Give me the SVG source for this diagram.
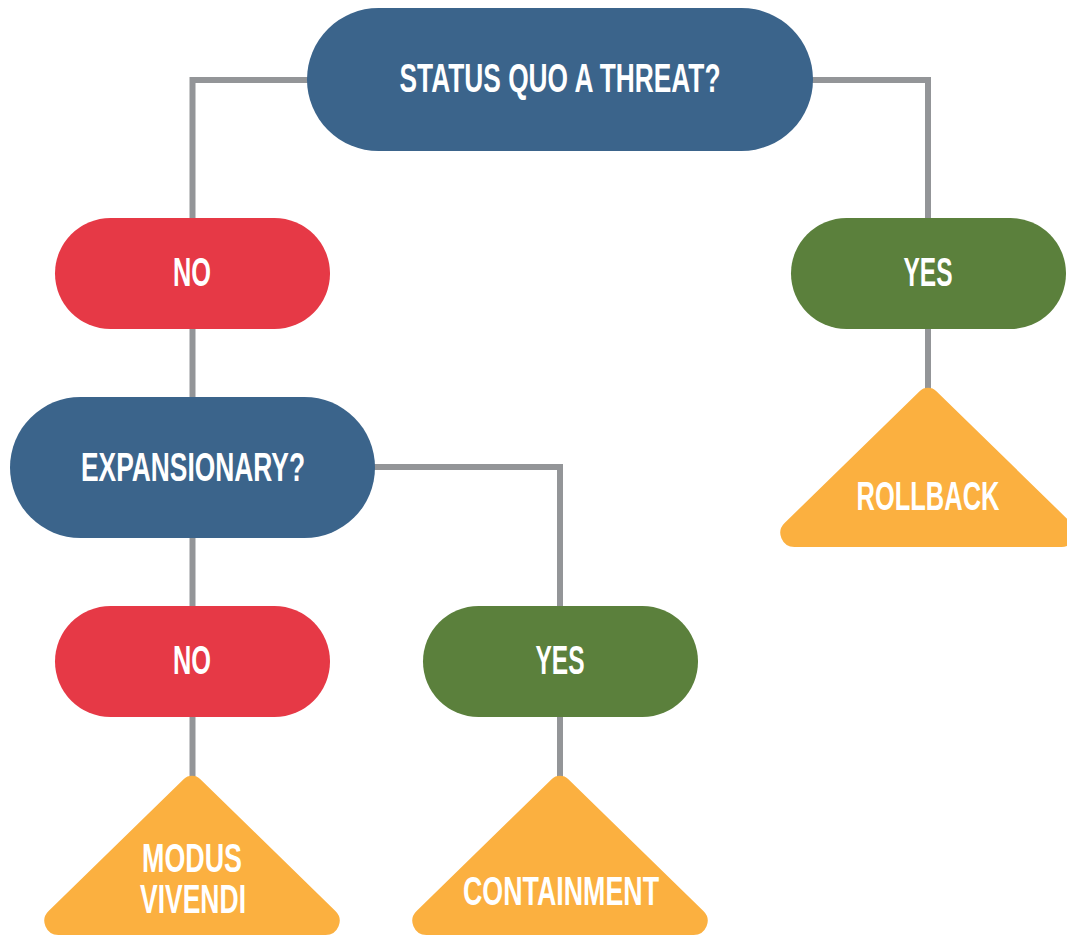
<svg xmlns="http://www.w3.org/2000/svg" xmlns:xlink="http://www.w3.org/1999/xlink" width="1067" height="936" viewBox="0 0 1067 936">
  <defs>
    <style>
      .conn { fill: none; stroke: #939598; stroke-width: 6; stroke-linejoin: miter; }
      .q { fill: #3b648b; }
      .no { fill: #e63946; }
      .yes { fill: #5b803c; }
      .end { fill: #fbb040; }
      text { font-family: "Liberation Sans", Arial, sans-serif; font-weight: bold; font-size: 40px; fill: #ffffff; text-anchor: middle; }
    </style>
    <path id="tri" d="M -8.39,8.19 L -143.4,140 A 14 14 0 0 0 -133.6,164 L 133.6,164 A 14 14 0 0 0 143.4,140 L 8.39,8.19 A 12 12 0 0 0 -8.39,8.19 Z"/>
  </defs>
  <rect width="1067" height="936" fill="#ffffff"/>

  <g id="connectors">
    <polyline class="conn" points="310,80 192.5,80 192.5,220"/>
    <polyline class="conn" points="810,80 928,80 928,220"/>
    <line class="conn" x1="192.5" y1="328" x2="192.5" y2="400"/>
    <polyline class="conn" points="372,467 560,467 560,608"/>
    <line class="conn" x1="192.5" y1="536" x2="192.5" y2="608"/>
    <line class="conn" x1="192.5" y1="716" x2="192.5" y2="780"/>
    <line class="conn" x1="560" y1="716" x2="560" y2="780"/>
    <line class="conn" x1="928" y1="328" x2="928" y2="392"/>
  </g>

  <g id="status-quo">
    <rect class="q" x="307" y="8" width="506" height="143" rx="71.5"/>
    <text x="560" y="92" textLength="321" lengthAdjust="spacingAndGlyphs">STATUS QUO A THREAT?</text>
  </g>

  <g id="no-1">
    <rect class="no" x="55" y="218" width="275" height="111" rx="55.5"/>
    <text x="192" y="286" textLength="38" lengthAdjust="spacingAndGlyphs">NO</text>
  </g>

  <g id="yes-1">
    <rect class="yes" x="791" y="218" width="275" height="111" rx="55.5"/>
    <text x="928" y="286" textLength="49" lengthAdjust="spacingAndGlyphs">YES</text>
  </g>

  <g id="expansionary">
    <rect class="q" x="10" y="397" width="365" height="141" rx="70.5"/>
    <text x="193" y="481" textLength="224" lengthAdjust="spacingAndGlyphs">EXPANSIONARY?</text>
  </g>

  <g id="no-2">
    <rect class="no" x="55" y="606" width="275" height="111" rx="55.5"/>
    <text x="192" y="674" textLength="38" lengthAdjust="spacingAndGlyphs">NO</text>
  </g>

  <g id="yes-2">
    <rect class="yes" x="423" y="606" width="275" height="111" rx="55.5"/>
    <text x="560" y="674" textLength="49" lengthAdjust="spacingAndGlyphs">YES</text>
  </g>

  <g id="rollback">
    <use xlink:href="#tri" href="#tri" class="end" transform="translate(928,383)"/>
    <text x="928" y="510" textLength="143" lengthAdjust="spacingAndGlyphs">ROLLBACK</text>
  </g>

  <g id="modus-vivendi">
    <use xlink:href="#tri" href="#tri" class="end" transform="translate(192,771)"/>
    <text x="192" y="872" textLength="100" lengthAdjust="spacingAndGlyphs">MODUS</text>
    <text x="193" y="913" textLength="106" lengthAdjust="spacingAndGlyphs">VIVENDI</text>
  </g>

  <g id="containment">
    <use xlink:href="#tri" href="#tri" class="end" transform="translate(560,771)"/>
    <text x="561" y="905" textLength="196" lengthAdjust="spacingAndGlyphs">CONTAINMENT</text>
  </g>
</svg>
